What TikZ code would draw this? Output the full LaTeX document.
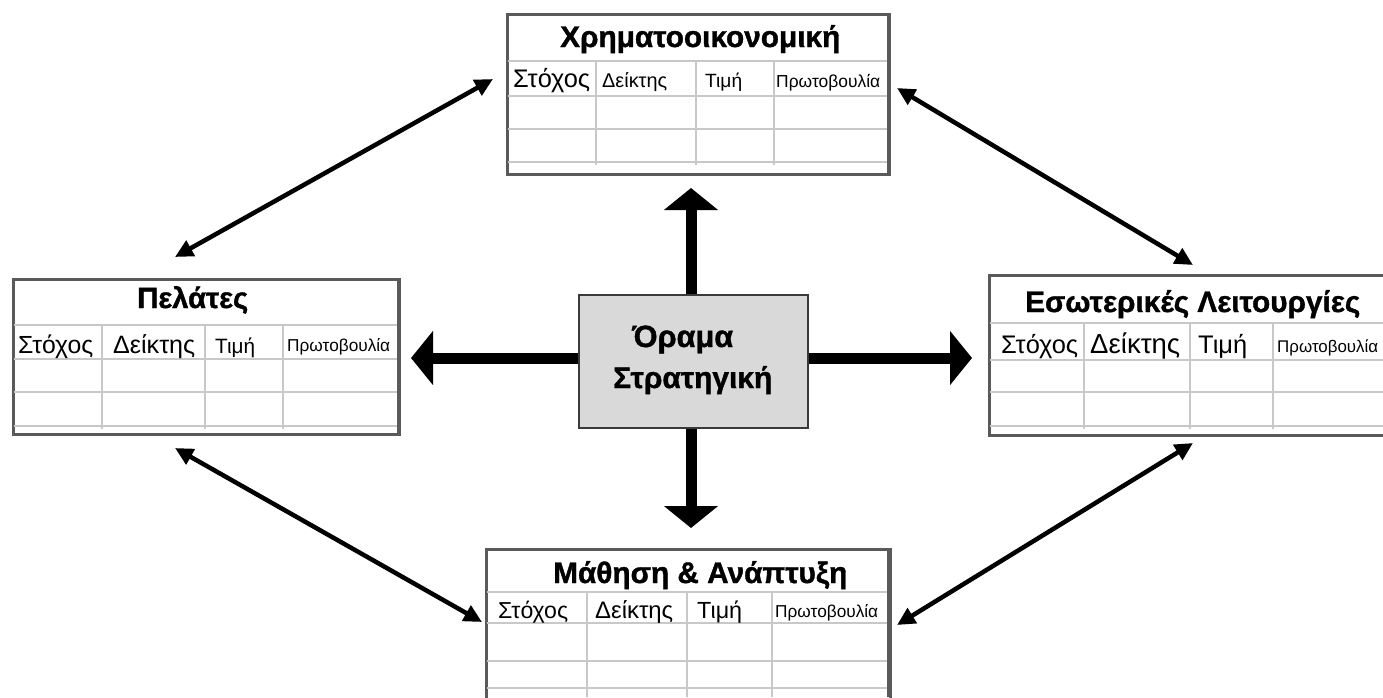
\documentclass[tikz,border=0pt]{standalone}
\usepackage{fontspec}
\usepackage{graphicx}
\setmainfont{Liberation Sans}
\newfontfamily\heavyfont{Liberation Sans}[BoldFeatures={FakeBold=1.2}]
\usetikzlibrary{arrows.meta}
\definecolor{gridc}{HTML}{C8C8C8}
\definecolor{borderc}{HTML}{5A5A5A}
\definecolor{centerfill}{HTML}{D9D9D9}
\definecolor{centerborder}{HTML}{3A3A3A}
\newcommand{\fw}[2]{\resizebox{#1pt}{!}{#2}}
\begin{document}
\begin{tikzpicture}[x=1pt,y=-1pt,
  panel/.style={draw=borderc, line width=2.5pt, fill=white, inner sep=0pt, anchor=north west},
  gridline/.style={draw=gridc, line width=1.5pt},
  txt/.style={inner sep=0pt, anchor=base west},
  ttl/.style={inner sep=0pt, anchor=base west, font=\heavyfont\bfseries},
  dbl/.style={line width=4.5pt, {Triangle[length=18pt,width=17pt]}-{Triangle[length=18pt,width=17pt]}},
  bigarrow/.style={line width=11pt, -{Triangle[length=22pt,width=53pt]}}]
\useasboundingbox (0,0) rectangle (1383,697);
\clip (0,0) rectangle (1383,697);

% ---------- panels ----------
\node[panel, minimum width=382pt, minimum height=160pt] (fin) at (506,13) {};
\node[panel, minimum width=386pt, minimum height=155pt] (cust) at (12,278) {};
\node[panel, minimum width=402pt, minimum height=160pt] (proc) at (988,274) {};
\node[panel, minimum width=404pt, minimum height=170pt] (learn) at (485,548) {};

% ---------- grids ----------
\foreach \y in {61,96,129,162} \draw[gridline] (507.5,\y) -- (886.5,\y);
\foreach \x in {596,696,774} \draw[gridline] (\x,61) -- (\x,165);

\foreach \y in {325,359,392,426} \draw[gridline] (13.5,\y) -- (396.5,\y);
\foreach \x in {102,205,283} \draw[gridline] (\x,325) -- (\x,429);

\foreach \y in {323,360,392,426} \draw[gridline] (989.5,\y) -- (1390,\y);
\foreach \x in {1084,1190,1273} \draw[gridline] (\x,323) -- (\x,429);

\foreach \y in {592,623,661,688} \draw[gridline] (486.5,\y) -- (887.5,\y);
\foreach \x in {587,687,772} \draw[gridline] (\x,592) -- (\x,697);

% right edge emphasis (shadow)
\draw[draw=borderc, line width=4pt] (889,548) -- (889,697);
\draw[draw=borderc, line width=3.5pt] (398.5,280) -- (398.5,433.5);
\draw[draw=borderc, line width=3.5pt] (888.5,15) -- (888.5,173.5);

% ---------- texts: top ----------
\node[ttl] (finT) at (560,47) {\fw{280}{Χρηματοοικονομική}};
\node[txt] (finA) at (513,87) {\fw{77}{Στόχος}};
\node[txt] (finB) at (602,87) {\fw{65}{Δείκτης}};
\node[txt] (finC) at (705,87) {\fw{37}{Τιμή}};
\node[txt] (finD) at (776,87) {\fw{104}{Πρωτοβουλία}};

% ---------- texts: left ----------
\node[ttl] (custT) at (137,308) {\fw{111}{Πελάτες}};
\node[txt] (custA) at (18,353) {\fw{75}{Στόχος}};
\node[txt] (custB) at (113,353) {\fw{82}{Δείκτης}};
\node[txt] (custC) at (215,353) {\fw{40}{Τιμή}};
\node[txt] (custD) at (287,351) {\fw{103}{Πρωτοβουλία}};

% ---------- texts: right ----------
\node[ttl] (procT) at (1025,312) {\fw{335}{Εσωτερικές Λειτουργίες}};
\node[txt] (procA) at (1001,353) {\fw{77}{Στόχος}};
\node[txt] (procB) at (1090,353) {\fw{90}{Δείκτης}};
\node[txt] (procC) at (1198,353) {\fw{49}{Τιμή}};
\node[txt] (procD) at (1277,352) {\fw{101}{Πρωτοβουλία}};

% ---------- texts: bottom ----------
\node[ttl] (learnT) at (553,583) {\fw{294}{Μάθηση \& Ανάπτυξη}};
\node[txt] (learnA) at (498,618) {\fw{70}{Στόχος}};
\node[txt] (learnB) at (595,618) {\fw{78}{Δείκτης}};
\node[txt] (learnC) at (697,618) {\fw{45}{Τιμή}};
\node[txt] (learnD) at (775,617) {\fw{103}{Πρωτοβουλία}};

% ---------- centre ----------
\node[draw=centerborder, line width=1.5pt, fill=centerfill, minimum width=229pt, minimum height=133pt, inner sep=0pt, anchor=north west] (vision) at (578,294) {};
\node[ttl] (visA) at (632,347) {\fw{101}{Όραμα}};
\node[ttl] (visB) at (613,388) {\fw{159}{Στρατηγική}};

% ---------- thick arrows ----------
\coordinate (upTip) at (691,188);
\coordinate (downTip) at (691,528);
\coordinate (leftTip) at (411,358);
\coordinate (rightTip) at (972,358);
\draw[bigarrow] (vision.north -| upTip) -- (upTip);
\draw[bigarrow] (vision.south -| downTip) -- (downTip);
\draw[bigarrow] (vision.west |- leftTip) -- (leftTip);
\draw[bigarrow] (vision.east |- rightTip) -- (rightTip);

% ---------- double arrows ----------
\coordinate (ulA) at (175,257);
\coordinate (ulB) at (493,79);
\coordinate (urA) at (897,88);
\coordinate (urB) at (1193,265);
\coordinate (llA) at (175,448);
\coordinate (llB) at (482,622);
\coordinate (lrA) at (1193,443);
\coordinate (lrB) at (897,625);
\draw[dbl] (ulA) -- (ulB);
\draw[dbl] (urA) -- (urB);
\draw[dbl] (llA) -- (llB);
\draw[dbl] (lrA) -- (lrB);
\end{tikzpicture}
\end{document}
